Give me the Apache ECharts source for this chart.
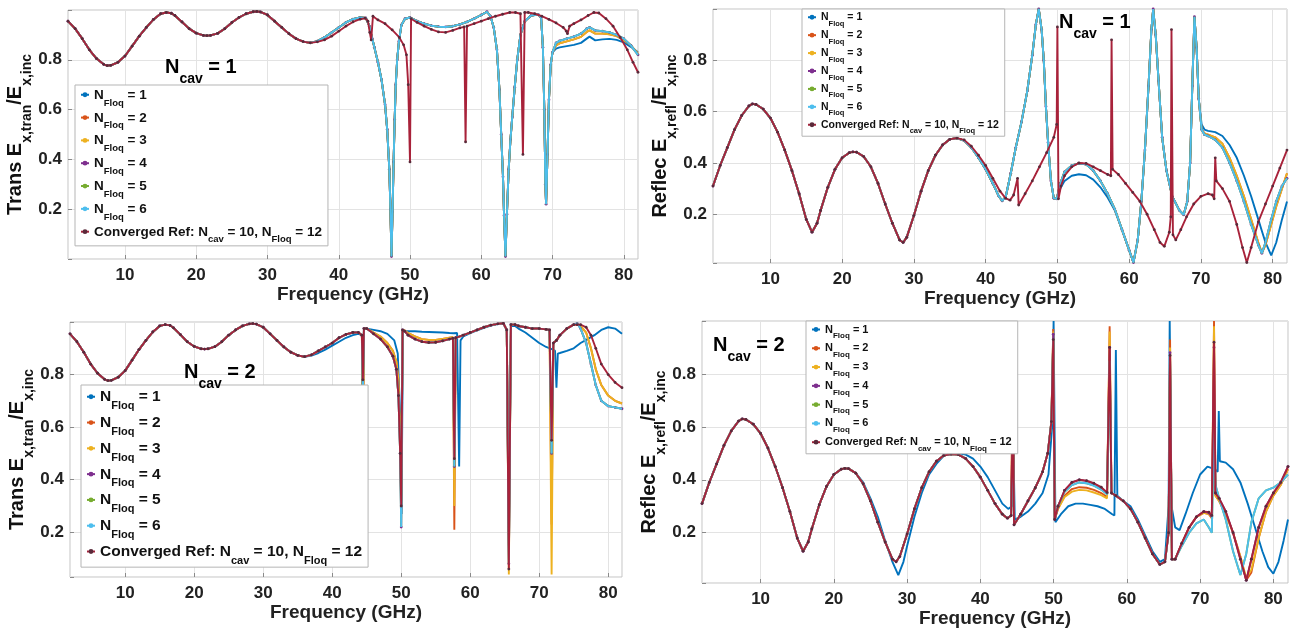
<!DOCTYPE html>
<html><head><meta charset="utf-8">
<script src="https://cdn.jsdelivr.net/npm/echarts@6/dist/echarts.min.js"></script>
<style>html,body{margin:0;padding:0;background:#fff}#c{width:1292px;height:630px}</style>
</head><body><div id="c"></div>
<script>
// ---------- DATA ----------
const seriesNames = ['NFloq1','NFloq2','NFloq3','NFloq4','NFloq5','NFloq6','Ref'];
const xTickLabels = [10,20,30,40,50,60,70,80];
const yTickLabels = [0.2,0.4,0.6,0.8];

// common low-frequency part (all series agree)
const baseF = [2,3,4,5,6,7,7.5,8,9,10,11,12,13,14,15,15.8,16.5,17,18,19,20,21,21.5,22,23,24,25,26,27,28,28.5,29,30,31,32,33,34,35,36];
const baseT = [0.955,0.925,0.885,0.84,0.805,0.782,0.777,0.778,0.79,0.815,0.855,0.895,0.93,0.962,0.985,0.99,0.987,0.978,0.952,0.925,0.907,0.898,0.897,0.898,0.906,0.925,0.95,0.97,0.985,0.993,0.994,0.992,0.98,0.955,0.93,0.905,0.885,0.873,0.868];
const baseR = [0.31,0.39,0.46,0.53,0.585,0.622,0.63,0.628,0.61,0.575,0.52,0.45,0.37,0.28,0.18,0.13,0.165,0.215,0.305,0.375,0.42,0.44,0.443,0.442,0.425,0.385,0.32,0.24,0.165,0.1,0.09,0.11,0.195,0.29,0.37,0.43,0.47,0.492,0.497];

// ---- Panel 1: Trans, Ncav = 1 ----
const tlMidF = [37,38,39,40,41,42,43,43.8,44.3,44.7,45.0,45.5,46.0,46.5,46.8,47.1,47.25,47.4,47.55,47.7,47.85,48.0,48.2,48.45,48.8,49.3,50,51,52,53,54,55,56,57,58,59,60,60.8,61.3,61.75,62.2,62.55,62.8,63.05,63.2,63.4,63.6,63.85,64.1,64.35,64.7,65.05,65.5,66.1,67,68,68.4,68.65,68.85,69.0,69.1,69.3,69.5,69.75,70];
const tlMidV = [0.875,0.89,0.91,0.93,0.95,0.963,0.97,0.968,0.935,0.885,0.85,0.79,0.72,0.62,0.52,0.36,0.2,0.01,0.19,0.39,0.56,0.7,0.8,0.875,0.94,0.965,0.97,0.955,0.945,0.937,0.933,0.932,0.935,0.942,0.952,0.965,0.98,0.993,0.975,0.93,0.84,0.68,0.5,0.33,0.175,0.01,0.18,0.36,0.48,0.57,0.69,0.8,0.9,0.955,0.978,0.982,0.97,0.85,0.6,0.3,0.22,0.42,0.64,0.78,0.83];
const tlTailF = [70.5,71,72,73,74,74.8,75.2,76,77,78,79,80,81,82];
const tlTail1V = [0.845,0.85,0.855,0.86,0.868,0.885,0.893,0.878,0.882,0.884,0.88,0.87,0.852,0.83];
const tlTail23V = [0.858,0.866,0.874,0.882,0.892,0.912,0.918,0.905,0.905,0.902,0.895,0.88,0.858,0.825];
const tlTail456V = [0.868,0.876,0.885,0.893,0.905,0.925,0.93,0.918,0.915,0.91,0.9,0.885,0.858,0.82];
const tlRefF = [37,38,39,40,41,42,43,43.7,44.1,44.35,44.55,44.8,45.5,46.5,47.5,48.5,49.1,49.5,49.75,50.0,50.15,51,52,53,54,55,56,57,57.6,57.8,58.0,59,60,61,62,63,64,64.8,65.5,65.85,66.1,66.6,67.5,68.5,69.5,70.5,71.5,71.95,72.1,72.4,73,74,75,75.8,76.5,77.5,78.5,79.5,80.5,81.3,82];
const tlRefV = [0.872,0.88,0.895,0.915,0.935,0.952,0.963,0.967,0.955,0.91,0.88,0.975,0.96,0.945,0.92,0.89,0.86,0.82,0.7,0.39,0.965,0.95,0.935,0.922,0.912,0.91,0.918,0.928,0.932,0.47,0.935,0.945,0.955,0.965,0.975,0.983,0.99,0.99,0.985,0.42,0.99,0.99,0.985,0.975,0.962,0.948,0.93,0.915,0.905,0.935,0.945,0.96,0.978,0.99,0.988,0.965,0.935,0.89,0.84,0.79,0.75];

// ---- Panel 2: Reflec, Ncav = 1 ----
const trMidF = [37,38,39,40,41,41.8,42.3,42.8,43.5,44.2,45,45.8,46.5,47.0,47.4,47.8,48.1,48.4,48.7,49.1,49.5,49.9,50.4,51,52,53,54,55,56,57,58,59,60,60.6,61.2,61.7,62.2,62.7,63.1,63.35,63.7,64.1,64.6,65.2,66,67,67.6,68.1,68.5,68.8,69.1,69.4,69.7,70.1];
const trMidV = [0.487,0.46,0.42,0.375,0.32,0.272,0.252,0.268,0.36,0.46,0.56,0.68,0.82,0.94,1.0,0.92,0.8,0.62,0.48,0.33,0.262,0.26,0.32,0.365,0.39,0.398,0.395,0.37,0.33,0.28,0.22,0.14,0.06,0.012,0.1,0.25,0.45,0.7,0.92,1.0,0.9,0.72,0.5,0.37,0.27,0.215,0.198,0.25,0.4,0.7,0.97,0.85,0.65,0.53];
const trMid1V = [0.487,0.46,0.42,0.375,0.32,0.272,0.252,0.268,0.36,0.46,0.56,0.68,0.82,0.94,1.0,0.92,0.8,0.62,0.48,0.33,0.262,0.26,0.30,0.33,0.35,0.356,0.352,0.335,0.305,0.265,0.215,0.14,0.06,0.012,0.1,0.25,0.45,0.7,0.92,1.0,0.9,0.72,0.5,0.37,0.27,0.215,0.198,0.25,0.4,0.7,0.97,0.85,0.65,0.55];
const trTailF = [70.5,71,72,73,74,75,76,77,78,78.5,79,79.8,80.5,81.3,82];
const trTail1V = [0.53,0.525,0.52,0.505,0.47,0.42,0.35,0.27,0.18,0.135,0.09,0.04,0.09,0.18,0.25];
const trTail23V = [0.515,0.51,0.5,0.475,0.42,0.35,0.27,0.18,0.09,0.05,0.08,0.16,0.23,0.3,0.36];
const trTail456V = [0.51,0.505,0.49,0.46,0.4,0.33,0.25,0.16,0.08,0.048,0.09,0.18,0.25,0.31,0.34];
const trRefF = [37,38,39,40,41,42,42.8,43.4,43.9,44.45,44.6,45.5,46.5,47.5,48.5,49.5,49.9,50.0,50.15,50.5,51,52,53,54,55,56,57,57.45,57.55,57.7,58.5,59.5,60.5,61.5,62.5,63.5,64.3,64.9,65.6,65.8,65.9,66.1,66.5,67.2,68,69,70,71,71.6,71.85,72.0,72.15,73,74,75,75.8,76.4,77,78,79,80,81,82];
const trRefV = [0.49,0.465,0.43,0.39,0.34,0.29,0.262,0.255,0.275,0.34,0.236,0.28,0.33,0.385,0.44,0.5,0.55,0.93,0.26,0.31,0.35,0.385,0.4,0.398,0.385,0.37,0.355,0.35,0.88,0.375,0.355,0.32,0.285,0.25,0.2,0.14,0.09,0.075,0.13,0.19,0.92,0.12,0.1,0.14,0.19,0.24,0.27,0.28,0.275,0.26,0.42,0.33,0.3,0.25,0.16,0.07,0.012,0.07,0.17,0.24,0.31,0.38,0.45];

// ---- Panel 3: Trans, Ncav = 2 ----
const blF = [37,38,39,40,41,42,43,43.8,44.3,44.45,44.6,45,46,47,48,48.8,49.3,49.6,49.85,50.0,50.2,50.5,51,52,53,54,55,56,57,57.5,57.7,57.9,59,60,61,62,63,64,64.8,65.3,65.6,65.9,66.5,67,68,69,70,71,71.5,71.8,72.05,72.5,73,74,75,75.5,76,76.8,77.5,78.2,79,80,81,82];
const bl2V = [0.875,0.89,0.905,0.92,0.94,0.953,0.96,0.96,0.95,0.33,0.975,0.975,0.96,0.945,0.92,0.89,0.85,0.78,0.55,0.32,0.97,0.968,0.958,0.945,0.935,0.932,0.932,0.936,0.94,0.942,0.21,0.94,0.95,0.96,0.97,0.98,0.988,0.993,0.995,0.97,0.15,0.99,0.99,0.985,0.98,0.975,0.975,0.972,0.97,0.23,0.92,0.93,0.95,0.975,0.99,0.99,0.985,0.96,0.9,0.82,0.76,0.72,0.7,0.69];
const bl3V = [0.875,0.89,0.905,0.92,0.94,0.953,0.96,0.96,0.95,0.5,0.975,0.975,0.96,0.945,0.92,0.89,0.85,0.78,0.55,0.3,0.97,0.968,0.958,0.945,0.935,0.932,0.932,0.936,0.94,0.942,0.3,0.94,0.95,0.96,0.97,0.98,0.988,0.993,0.995,0.97,0.04,0.99,0.99,0.985,0.98,0.975,0.975,0.972,0.97,0.04,0.92,0.93,0.95,0.975,0.99,0.99,0.985,0.96,0.9,0.82,0.76,0.72,0.7,0.69];
const bl456V = [0.875,0.89,0.905,0.92,0.94,0.953,0.96,0.96,0.95,0.72,0.975,0.975,0.955,0.935,0.905,0.87,0.82,0.72,0.5,0.22,0.97,0.965,0.95,0.935,0.925,0.922,0.923,0.928,0.935,0.938,0.45,0.94,0.95,0.96,0.97,0.98,0.988,0.993,0.995,0.97,0.08,0.99,0.99,0.985,0.98,0.975,0.975,0.972,0.97,0.5,0.92,0.93,0.95,0.975,0.99,0.995,0.975,0.92,0.84,0.76,0.7,0.68,0.675,0.67];
const blRefV = [0.875,0.89,0.905,0.92,0.94,0.953,0.96,0.96,0.95,0.78,0.975,0.975,0.955,0.935,0.905,0.87,0.82,0.72,0.5,0.3,0.97,0.965,0.95,0.935,0.925,0.922,0.923,0.928,0.935,0.938,0.48,0.94,0.95,0.96,0.97,0.98,0.988,0.993,0.995,0.97,0.06,0.99,0.99,0.985,0.98,0.975,0.975,0.972,0.97,0.55,0.92,0.93,0.95,0.975,0.99,0.99,0.99,0.98,0.95,0.9,0.84,0.8,0.77,0.75];
const bl1F = [37,38,39,40,41,42,43,43.8,44.3,44.45,44.6,45,46,47,48,49,49.5,49.85,50.05,50.25,51,52,53,54,55,56,57,57.6,58.1,58.4,58.6,59,60,61,62,63,64,64.8,65.3,65.6,65.9,66.5,67,68,69,70,71,72,72.3,72.5,72.7,73,74,75,76,77,78,79,80,81,82];
const bl1V = [0.872,0.882,0.895,0.91,0.925,0.94,0.95,0.955,0.95,0.8,0.975,0.975,0.97,0.965,0.955,0.93,0.88,0.65,0.27,0.965,0.965,0.965,0.963,0.962,0.961,0.96,0.958,0.957,0.958,0.45,0.93,0.945,0.958,0.968,0.978,0.986,0.992,0.994,0.97,0.19,0.985,0.985,0.975,0.96,0.94,0.92,0.905,0.895,0.89,0.75,0.88,0.882,0.89,0.9,0.92,0.935,0.95,0.97,0.98,0.975,0.955];

// ---- Panel 4: Reflec, Ncav = 2 ----
const brF = [37,38,39,40,41,42,43,43.7,44.2,44.45,44.6,45.5,46.5,47.5,48.5,49.2,49.7,49.95,50.15,50.6,51.5,52.5,53.5,54.5,55.5,56.5,57.3,57.65,57.9,58.5,59.5,60.5,61.5,62.5,63.5,64.5,65.2,65.7,65.9,66.15,66.6,67.5,68.5,69.5,70.5,71.2,71.6,71.9,72.1,72.6,73.5,74.5,75.5,76.3,77,78,79,80,81,82];
const br2V = [0.495,0.48,0.45,0.41,0.36,0.31,0.27,0.255,0.265,0.95,0.23,0.27,0.32,0.37,0.43,0.5,0.62,0.97,0.25,0.29,0.34,0.365,0.372,0.37,0.362,0.35,0.335,0.98,0.35,0.34,0.32,0.29,0.24,0.18,0.12,0.08,0.09,0.2,0.93,0.1,0.1,0.16,0.22,0.26,0.275,0.27,0.255,1.0,0.34,0.32,0.27,0.2,0.11,0.02,0.05,0.18,0.28,0.34,0.38,0.44];
const br3V = [0.495,0.48,0.45,0.41,0.36,0.31,0.27,0.255,0.265,0.8,0.23,0.27,0.32,0.37,0.43,0.5,0.62,0.96,0.25,0.29,0.335,0.355,0.362,0.36,0.352,0.342,0.33,0.96,0.35,0.34,0.32,0.29,0.24,0.18,0.12,0.08,0.09,0.2,0.9,0.1,0.1,0.16,0.22,0.26,0.275,0.27,0.255,0.98,0.34,0.32,0.27,0.2,0.11,0.03,0.06,0.18,0.28,0.34,0.38,0.44];
const br4V = [0.495,0.48,0.45,0.41,0.36,0.31,0.27,0.255,0.265,0.73,0.23,0.27,0.32,0.37,0.43,0.5,0.62,0.95,0.25,0.3,0.36,0.39,0.4,0.395,0.385,0.37,0.35,0.9,0.35,0.34,0.32,0.29,0.24,0.18,0.12,0.08,0.09,0.2,0.88,0.1,0.1,0.16,0.22,0.26,0.28,0.275,0.26,0.9,0.35,0.33,0.28,0.2,0.1,0.02,0.1,0.22,0.3,0.35,0.39,0.45];
const br56V = [0.495,0.48,0.45,0.41,0.36,0.31,0.27,0.255,0.265,0.6,0.23,0.27,0.32,0.37,0.43,0.5,0.62,0.93,0.25,0.3,0.355,0.38,0.39,0.387,0.378,0.363,0.345,0.85,0.35,0.34,0.32,0.29,0.24,0.18,0.12,0.08,0.09,0.2,0.85,0.1,0.1,0.15,0.2,0.235,0.25,0.22,0.2,0.6,0.38,0.33,0.25,0.13,0.04,0.12,0.24,0.33,0.36,0.37,0.39,0.42];
const brRefV = [0.495,0.48,0.45,0.41,0.36,0.31,0.27,0.255,0.265,0.7,0.23,0.27,0.32,0.37,0.43,0.5,0.62,0.93,0.25,0.3,0.36,0.39,0.4,0.397,0.387,0.372,0.352,0.9,0.35,0.34,0.32,0.29,0.24,0.18,0.12,0.08,0.09,0.2,0.87,0.1,0.1,0.16,0.22,0.26,0.28,0.278,0.265,0.92,0.35,0.33,0.28,0.2,0.1,0.02,0.1,0.22,0.3,0.35,0.39,0.45];
const br1F = [24,25,26,27,28,28.8,29.5,30,31,32,33,34,35,36,36.5,37,38,39,40,41,42,43,43.8,44.3,44.5,44.7,45.5,46.5,47.5,48.5,49.3,49.8,50.0,50.25,51,52,53,54,55,56,57,58,58.3,58.5,58.7,59.5,60.5,61.5,62.5,63.5,64.5,65.2,65.7,65.85,66.1,66.6,67.2,68,69,70,71,72,72.4,72.55,72.7,73.5,74.5,75.5,76.5,77.5,78.5,79.3,80,80.7,81.4,82];
const br1V = [0.39,0.33,0.26,0.17,0.09,0.04,0.09,0.15,0.26,0.35,0.42,0.46,0.49,0.5,0.5,0.5,0.495,0.48,0.45,0.41,0.36,0.31,0.29,0.3,0.55,0.25,0.26,0.28,0.31,0.35,0.42,0.6,1.0,0.24,0.27,0.3,0.31,0.31,0.305,0.3,0.29,0.27,0.265,0.89,0.34,0.32,0.3,0.25,0.19,0.13,0.09,0.1,0.3,1.0,0.3,0.22,0.21,0.27,0.35,0.42,0.45,0.44,0.43,0.66,0.47,0.465,0.44,0.39,0.31,0.22,0.13,0.07,0.045,0.09,0.17,0.25];

// ---------- BUILD ----------
const FF = "'Liberation Sans', Arial, Helvetica, sans-serif";
const COLORS = ['#0072BD','#D95319','#EDB120','#7E2F8E','#77AC30','#4DBEEE','#A8223A'];
function zip(fs, vs){ return fs.map((f,i)=>[f, vs[i]]); }
const bF24 = baseF.filter(f => f < 24), bR24 = baseR.slice(0, bF24.length);

const panels = [
  [ zip(baseF.concat(tlMidF, tlTailF), baseT.concat(tlMidV, tlTail1V)),
    zip(baseF.concat(tlMidF, tlTailF), baseT.concat(tlMidV, tlTail23V)),
    zip(baseF.concat(tlMidF, tlTailF), baseT.concat(tlMidV, tlTail23V)),
    zip(baseF.concat(tlMidF, tlTailF), baseT.concat(tlMidV, tlTail456V)),
    zip(baseF.concat(tlMidF, tlTailF), baseT.concat(tlMidV, tlTail456V)),
    zip(baseF.concat(tlMidF, tlTailF), baseT.concat(tlMidV, tlTail456V)),
    zip(baseF.concat(tlRefF), baseT.concat(tlRefV)) ],
  [ zip(baseF.concat(trMidF, trTailF), baseR.concat(trMid1V, trTail1V)),
    zip(baseF.concat(trMidF, trTailF), baseR.concat(trMidV, trTail23V)),
    zip(baseF.concat(trMidF, trTailF), baseR.concat(trMidV, trTail23V)),
    zip(baseF.concat(trMidF, trTailF), baseR.concat(trMidV, trTail456V)),
    zip(baseF.concat(trMidF, trTailF), baseR.concat(trMidV, trTail456V)),
    zip(baseF.concat(trMidF, trTailF), baseR.concat(trMidV, trTail456V)),
    zip(baseF.concat(trRefF), baseR.concat(trRefV)) ],
  [ zip(baseF.concat(bl1F), baseT.concat(bl1V)),
    zip(baseF.concat(blF), baseT.concat(bl2V)),
    zip(baseF.concat(blF), baseT.concat(bl3V)),
    zip(baseF.concat(blF), baseT.concat(bl456V)),
    zip(baseF.concat(blF), baseT.concat(bl456V)),
    zip(baseF.concat(blF), baseT.concat(bl456V)),
    zip(baseF.concat(blF), baseT.concat(blRefV)) ],
  [ zip(bF24.concat(br1F), bR24.concat(br1V)),
    zip(baseF.concat(brF), baseR.concat(br2V)),
    zip(baseF.concat(brF), baseR.concat(br3V)),
    zip(baseF.concat(brF), baseR.concat(br4V)),
    zip(baseF.concat(brF), baseR.concat(br56V)),
    zip(baseF.concat(brF), baseR.concat(br56V)),
    zip(baseF.concat(brF), baseR.concat(brRefV)) ]
];

const GRIDS = [
  {left:68, top:10, width:570, height:249},
  {left:713, top:9, width:574, height:254},
  {left:70, top:322, width:552, height:255},
  {left:702, top:321, width:586, height:262}
];
const YMIN = [0, 0.01, 0.03, 0.01];
const YNAME = ['{m|Trans E}{s|x,tran}{m|/E}{s|x,inc}','{m|Reflec E}{s|x,refl}{m|/E}{s|x,inc}','{m|Trans E}{s|x,tran}{m|/E}{s|x,inc}','{m|Reflec E}{s|x,refl}{m|/E}{s|x,inc}'];
const YGAP = [28, 30, 26, 29];
const XGAP = [25, 21, 21, 19];

function richSet(M, S, pt){
  return {
    m:{fontSize:M, fontWeight:'bold', lineHeight:M, verticalAlign:'top', color:'#111', fontFamily:FF},
    s:{fontSize:S, fontWeight:'bold', lineHeight:S, verticalAlign:'top', padding:[pt,0,0,0], color:'#111', fontFamily:FF}
  };
}
function legendFmt(name){
  if (name === 'Ref') return '{m|Converged Ref: N}{s|cav}{m| = 10, N}{s|Floq}{m| = 12}';
  return '{m|N}{s|Floq}{m| = ' + name.slice(5) + '}';
}
const LEG = [
  {left:75, top:85, M:13.5, S:9.5, gap:2.9, pad:[3,6,1,5]},
  {left:802, top:9, M:10.5, S:7.5, gap:2.2, pad:[3,6,1,5]},
  {left:81, top:385, M:15.5, S:11, gap:3.4, pad:[4,6,1,5]},
  {left:806, top:321, M:11, S:8, gap:2.7, pad:[3,6,1,5]}
];

const option = {
  animation:false,
  backgroundColor:'#fff',
  grid: GRIDS.map(g => ({left:g.left, top:g.top, width:g.width, height:g.height, show:true, borderColor:'#c4c4c4', borderWidth:1, backgroundColor:'#fff', containLabel:false})),
  xAxis: GRIDS.map((g,i) => ({
    type:'value', gridIndex:i, min:2, max:82, splitNumber:8, minInterval:10, maxInterval:10,
    axisLine:{show:false},
    axisTick:{show:true, inside:true, length:4, lineStyle:{color:'#8a8a8a'}},
    axisLabel:{showMinLabel:false, showMaxLabel:false, fontSize:17, fontWeight:'bold', color:'#222', margin:8, fontFamily:FF,
      formatter: v => xTickLabels.indexOf(Math.round(v)) >= 0 ? String(Math.round(v)) : ''},
    splitLine:{show:true, lineStyle:{color:'#e3e3e3', width:1}},
    name:'Frequency (GHz)', nameLocation:'middle', nameGap:XGAP[i],
    nameTextStyle:{fontSize:19, fontWeight:'bold', color:'#222', fontFamily:FF}
  })),
  yAxis: GRIDS.map((g,i) => ({
    type:'value', gridIndex:i, min:YMIN[i], max:1, splitNumber:5, minInterval:0.2, maxInterval:0.2,
    axisLine:{show:false},
    axisTick:{show:true, inside:true, length:4, lineStyle:{color:'#8a8a8a'}},
    axisLabel:{fontSize:17, fontWeight:'bold', color:'#222', margin:6, fontFamily:FF,
      formatter: v => { const r = Math.round(v*10)/10; return (yTickLabels.indexOf(r) >= 0 && Math.abs(v-r) < 1e-6) ? r.toFixed(1) : ''; }},
    splitLine:{show:true, lineStyle:{color:'#e3e3e3', width:1}},
    name:YNAME[i], nameLocation:'middle', nameRotate:90, nameGap:YGAP[i],
    nameTextStyle:{rich: richSet(20, 14, 14.7)}
  })),
  legend: LEG.map(L => ({
    data: seriesNames, orient:'vertical', left:L.left, top:L.top,
    itemGap:L.gap, itemWidth:8, itemHeight:6, itemTextGap:4, padding:L.pad,
    backgroundColor:'#fff', borderColor:'#b5b5b5', borderWidth:1, selectedMode:false,
    formatter: legendFmt, textStyle:{rich: richSet(L.M, L.S, L.M*0.735)}
  })),
  graphic: [
    {type:'text', left:165, top:57, z:10, style:{text:'{m|N}{s|cav}{m| = 1}', rich: richSet(20,14,14.7)}},
    {type:'text', left:1059, top:12, z:10, style:{text:'{m|N}{s|cav}{m| = 1}', rich: richSet(20,14,14.7)}},
    {type:'text', left:184, top:362, z:10, style:{text:'{m|N}{s|cav}{m| = 2}', rich: richSet(20,14,14.7)}},
    {type:'text', left:713, top:335, z:10, style:{text:'{m|N}{s|cav}{m| = 2}', rich: richSet(20,14,14.7)}}
  ],
  series: []
};

panels.forEach((list, p) => {
  list.forEach((data, k) => {
    const dotted = (k === 3 || k === 6);
    option.series.push({
      type:'line', name:seriesNames[k], xAxisIndex:p, yAxisIndex:p, data:data,
      symbol:'circle', symbolSize: dotted ? 2.8 : 2, showSymbol: dotted,
      lineStyle:{width:1.9, color:COLORS[k]}, itemStyle:{color: k===6 ? '#5a2a3a' : COLORS[k]},
      silent:true, z: 2 + k*0.01
    });
  });
});

const chart = echarts.init(document.getElementById('c'), null, {renderer:'canvas'});
chart.setOption(option);
</script>
</body></html>
